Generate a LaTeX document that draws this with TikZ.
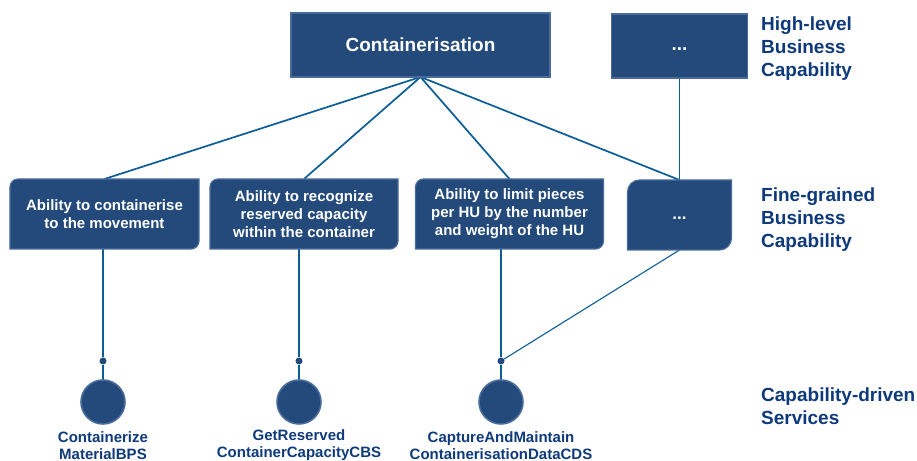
\documentclass[tikz,border=0pt]{standalone}
\usepackage{fontspec}
\setmainfont{Liberation Sans}
\usetikzlibrary{backgrounds}

\definecolor{capfill}{HTML}{234A7B}
\definecolor{capedge}{HTML}{4A6C9B}
\definecolor{capline}{HTML}{0C5D97}
\definecolor{captext}{HTML}{0E3A7C}

\tikzset{
  x=1bp, y=1bp,
  hlbox/.style={rectangle, fill=capfill, draw=capedge, line width=1.2bp,
    text=white, inner sep=0pt, outer sep=0pt,
    font=\bfseries\fontsize{19bp}{23bp}\selectfont},
  fgnode/.style={rectangle, inner sep=0pt, outer sep=0pt, text=white, align=center,
    minimum height=70bp, font=\bfseries\fontsize{15bp}{18bp}\selectfont},
  fgshape/.style={fill=capfill, draw=capedge, line width=1.2bp},
  svc/.style={circle, fill=capfill, draw=capedge, line width=1.6bp,
    minimum size=44bp, inner sep=0pt, outer sep=0pt},
  junction/.style={circle, fill=capfill, minimum size=7bp, inner sep=0pt},
  tier/.style={anchor=north west, align=left, inner sep=0pt, text=captext,
    font=\bfseries\fontsize{19bp}{23bp}\selectfont},
  svclabel/.style={align=center, inner sep=0pt, text=captext,
    font=\bfseries\fontsize{15bp}{17bp}\selectfont},
  link/.style={draw=capline, line width=1.7bp},
  sublink/.style={draw=capline, line width=1.1bp},
}

% box with rounded top-left and bottom-right corners, drawn round node #1
\newcommand\fgoutline[2]{%
  \path[fgshape] (#1.south west)
    -- ([yshift=-#2]#1.north west) arc[start angle=180, end angle=90, radius=#2]
    -- (#1.north east)
    -- ([yshift=#2]#1.south east) arc[start angle=0, end angle=-90, radius=#2]
    -- cycle;}

\begin{document}
\begin{tikzpicture}
\useasboundingbox (0,0) rectangle (917,461);

% high-level capabilities
\node[hlbox, minimum width=259bp, minimum height=64bp] (top) at (420.5,416) {Containerisation};
\node[hlbox, minimum width=136bp, minimum height=64bp] (hl2) at (679.5,415) {\strut...};

% fine-grained capabilities
\node[fgnode, minimum width=189bp] (b1) at (104.5,247) {Ability to containerise\\to the movement};
\node[fgnode, minimum width=188bp] (b2) at (304,247) {Ability to recognize\\reserved capacity\\within the container};
\node[fgnode, minimum width=188bp] (b3) at (509.5,247) {Ability to limit pieces\\per HU by the number\\and weight of the HU};
\node[fgnode, minimum width=104bp, font=\bfseries\fontsize{17bp}{21bp}\selectfont] (b4) at (679.5,246) {\strut...};

% services
\node[junction] (j1) at (103,100) {};
\node[junction] (j2) at (299,100) {};
\node[junction] (j3) at (501,100) {};
\node[svc] (s1) at (103,59) {};
\node[svc] (s2) at (299,59) {};
\node[svc] (s3) at (501,59) {};
\node[svclabel] (l1) at (103,15.5) {Containerize\\MaterialBPS};
\node[svclabel] (l2) at (299,15.5) {GetReserved\\ContainerCapacityCBS};
\node[svclabel] (l3) at (501,15.5) {CaptureAndMaintain\\ContainerisationDataCDS};

% tier captions
\node[tier] (t1) at (761,444) {High-level\\Business\\Capability};
\node[tier] (t2) at (761,273) {Fine-grained\\Business\\Capability};
\node[tier] (t3) at (761,73) {Capability-driven\\Services};

\begin{scope}[on background layer]
  % connectors
  \draw[link] (top.south) -- (b1.north);
  \draw[link] (top.south) -- (b2.north);
  \draw[link] (top.south) -- (b3.north);
  \draw[link] (top.south) -- (b4.north);
  \draw[link] (hl2.south) -- (b4.north);
  \draw[sublink] (b1.south -| j1) -- (j1) -- (s1);
  \draw[sublink] (b2.south -| j2) -- (j2) -- (s2);
  \draw[sublink] (b3.south -| j3) -- (j3) -- (s3);
  \draw[sublink] (j3) -- (b4.south);
  % box outlines
  \fgoutline{b1}{8bp}
  \fgoutline{b2}{8bp}
  \fgoutline{b3}{8bp}
  \fgoutline{b4}{12bp}
\end{scope}
\end{tikzpicture}
\end{document}
